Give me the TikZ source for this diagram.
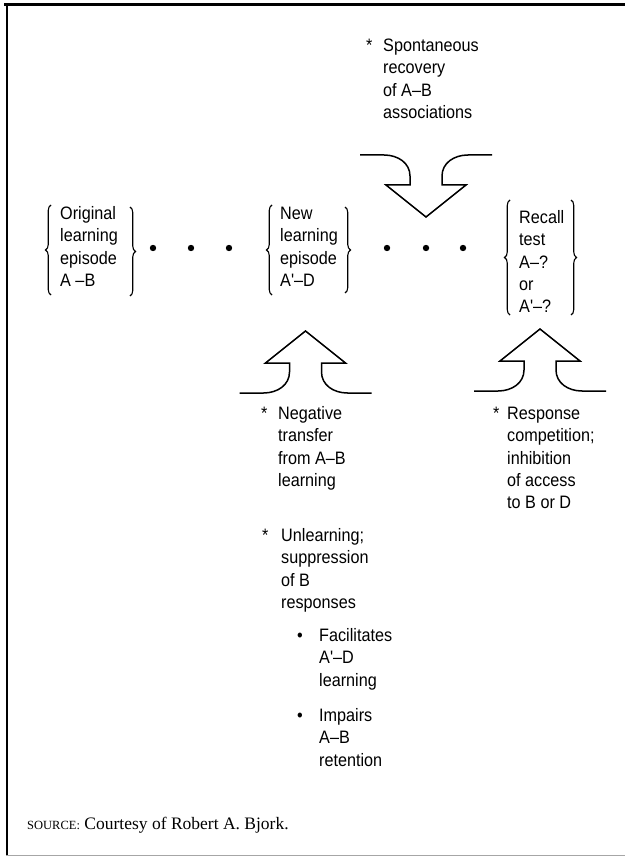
\documentclass[tikz,border=0pt]{standalone}
\usepackage{fontspec}
\setmainfont{Liberation Serif}
\newfontfamily\diag[FakeStretch=0.9]{Liberation Sans}
\usetikzlibrary{decorations.pathreplacing}
\newcommand{\tlines}[1]{\begin{tabular}[t]{@{}l@{}}#1\end{tabular}}
\tikzset{
  txt/.style={font=\diag\fontsize{18}{22.3}\selectfont, inner sep=0pt, anchor=base west},
  arrowline/.style={line width=1.5pt, line join=miter},
  bracel/.style={decorate, decoration={brace, amplitude=5.5pt}, line width=1.1pt},
  dotmark/.style={circle, fill=black, inner sep=0pt, minimum size=6.4pt},
  bigarrow/.pic={\draw[arrowline] (-66,62) -- (-42,62) .. controls (-28,62) and (-16,54) .. (-16,41) -- (-16,32) -- (-40,32) -- (0,0) -- (40,32) -- (16,32) -- (16,41) .. controls (16,54) and (28,62) .. (42,62) -- (66,62);}
}
\begin{document}
\begin{tikzpicture}[x=1pt,y=-1pt]
\useasboundingbox (0,0) rectangle (625,858);
% frame
\draw[line width=3pt] (4,5) -- (625,5);
\draw[line width=2pt] (6.5,4) -- (6.5,856);
\draw[line width=1.6pt, gray!70] (6,855.5) -- (625,855.5);

% episodes
\node[txt] (orig) at (60,219.5) {\tlines{Original\\learning\\episode\\A –B}};
\node[txt] (new) at (280,219.5) {\tlines{New\\learning\\episode\\A'–D}};
\node[txt] (recall) at (519,223.5) {\tlines{Recall\\test\\A–?\\or\\A'–?}};

% braces
\draw[bracel] (51,295) -- (51,205);
\draw[bracel] (130,207) -- (130,296);
\draw[bracel] (272,295) -- (272,205);
\draw[bracel] (345,207) -- (345,293);
\draw[bracel] (510,315) -- (510,200);
\draw[bracel] (571,200) -- (571,315);

% dots
\foreach \x/\n in {153/d1,191/d2,229/d3,387/d4,426/d5,463/d6}
  \node[dotmark] (\n) at (\x,248) {};

% arrows
\pic[yscale=-1] at (426,217) {bigarrow};
\pic at (305.5,331) {bigarrow};
\pic at (540,329) {bigarrow};

% annotations
\node[txt] (s1) at (366,51.5) {*};
\node[txt] (spont) at (383,51.5) {\tlines{Spontaneous\\recovery\\of A–B\\associations}};

\node[txt] (s2) at (261,419.5) {*};
\node[txt] (neg) at (278,419.5) {\tlines{Negative\\transfer\\from A–B\\learning}};

\node[txt] (s3) at (493,419.5) {*};
\node[txt] (resp) at (507,419.5) {\tlines{Response\\competition;\\inhibition\\of access\\to B or D}};

\node[txt] (s4) at (262,541.5) {*};
\node[txt] (unl) at (281,541.5) {\tlines{Unlearning;\\suppression\\of B\\responses}};

\node[txt] (b1) at (297,641.5) {•};
\node[txt] (fac) at (319,641.5) {\tlines{Facilitates\\A'–D\\learning}};
\node[txt] (b2) at (297,721.5) {•};
\node[txt] (imp) at (319,721.5) {\tlines{Impairs\\A–B\\retention}};

% source
\node[inner sep=0pt, anchor=base west] (src) at (27,829.5) {{\fontsize{12.5}{13}\selectfont SOURCE:}\hspace{0.45em}{\fontsize{17.5}{20}\selectfont Courtesy of Robert A. Bjork.}};
\end{tikzpicture}
\end{document}
